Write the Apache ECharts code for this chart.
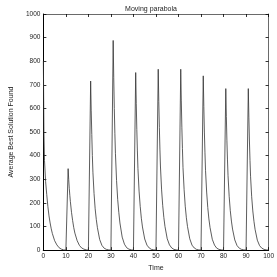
<!DOCTYPE html>
<html><head><meta charset="utf-8">
<script src="https://cdn.jsdelivr.net/npm/echarts@6/dist/echarts.min.js"></script>
<style>html,body{margin:0;padding:0;background:#fff}#c{width:277px;height:277px}</style>
</head><body><div id="c"></div>
<script>
// Time samples
const time = [
  0, 0.25, 0.5, 1, 1.5, 2, 2.5, 3, 3.5, 4, 5, 6, 7, 8, 9,
  10, 11, 11.25, 11.5, 11.75, 12, 12.5, 13, 13.5, 14, 15, 16, 17, 18, 19,
  20, 21, 21.25, 21.5, 21.75, 22, 22.5, 23, 23.5, 24, 25, 26, 27, 28, 29,
  30, 31, 31.25, 31.5, 31.75, 32, 32.5, 33, 33.5, 34, 35, 36, 37, 38, 39,
  40, 41, 41.25, 41.5, 41.75, 42, 42.5, 43, 43.5, 44, 45, 46, 47, 48, 49,
  50, 51, 51.25, 51.5, 51.75, 52, 52.5, 53, 53.5, 54, 55, 56, 57, 58, 59,
  60, 61, 61.25, 61.5, 61.75, 62, 62.5, 63, 63.5, 64, 65, 66, 67, 68, 69,
  70, 71, 71.25, 71.5, 71.75, 72, 72.5, 73, 73.5, 74, 75, 76, 77, 78, 79,
  80, 81, 81.25, 81.5, 81.75, 82, 82.5, 83, 83.5, 84, 85, 86, 87, 88, 89,
  90, 91, 91.25, 91.5, 91.75, 92, 92.5, 93, 93.5, 94, 95, 96, 97, 98, 99,
  100
];
// Average best solution found at each time sample
const bestFound = [
  800, 500, 380, 290, 235, 185, 145, 115, 90, 70, 40, 22, 10, 4, 1,
  0, 345, 300, 262, 232, 205, 160, 125, 95, 72, 40, 20, 9, 4, 1,
  0, 716, 590, 490, 400, 330, 240, 175, 130, 95, 45, 20, 8, 3, 1,
  0, 888, 730, 600, 495, 410, 295, 215, 160, 115, 55, 25, 10, 4, 1,
  0, 752, 620, 510, 420, 345, 250, 185, 135, 98, 47, 21, 9, 3, 1,
  0, 766, 630, 520, 428, 352, 255, 188, 138, 100, 48, 22, 9, 3, 1,
  0, 766, 632, 518, 430, 350, 256, 186, 137, 100, 48, 21, 9, 3, 1,
  0, 738, 608, 500, 412, 338, 246, 180, 132, 96, 46, 21, 8, 3, 1,
  0, 684, 565, 463, 382, 315, 228, 167, 123, 89, 43, 19, 8, 3, 1,
  0, 684, 563, 462, 380, 313, 226, 166, 122, 88, 42, 19, 8, 3, 1,
  0
];
const xTicks = [0, 10, 20, 30, 40, 50, 60, 70, 80, 90, 100];
const yTicks = [0, 100, 200, 300, 400, 500, 600, 700, 800, 900, 1000];

const pts = time.map((t, i) => [t, bestFound[i]]);
const FONT = 'Liberation Sans';
const tick = { show: true, inside: true, length: 3, lineStyle: { color: '#000', width: 0.8 } };

const chart = echarts.init(document.getElementById('c'), null, { renderer: 'canvas' });
chart.setOption({
  animation: false,
  backgroundColor: '#fff',
  title: {
    text: 'Moving parabola', left: 146, top: 1, textAlign: 'center',
    textStyle: { fontFamily: FONT, fontSize: 7, fontWeight: 'normal', color: '#222' }
  },
  grid: { left: 22.7, right: 7, top: 14, bottom: 19, containLabel: false },
  xAxis: [
    {
      type: 'value', min: 0, max: 100, interval: 10, position: 'bottom',
      name: 'Time', nameLocation: 'middle', nameGap: 14,
      nameTextStyle: { fontFamily: FONT, fontSize: 7, color: '#222' },
      axisLine: { show: true, onZero: false, lineStyle: { color: '#000', width: 1.2 } }, axisTick: tick,
      axisLabel: { fontFamily: FONT, fontSize: 6.5, color: '#222', margin: 3, formatter: v => xTicks.includes(v) ? String(v) : '' },
      splitLine: { show: false }
    },
    {
      type: 'value', min: 0, max: 100, interval: 10, position: 'top',
      axisLine: { show: true, onZero: false, lineStyle: { color: '#444', width: 0.8 } }, axisTick: tick,
      axisLabel: { show: false }, splitLine: { show: false }
    }
  ],
  yAxis: [
    {
      type: 'value', min: 0, max: 1000, interval: 100, position: 'left',
      name: 'Average Best Solution Found', nameLocation: 'middle', nameGap: 18, nameRotate: 90,
      nameTextStyle: { fontFamily: FONT, fontSize: 7, color: '#222' },
      axisLine: { show: true, onZero: false, lineStyle: { color: '#000', width: 1 } }, axisTick: tick,
      axisLabel: { fontFamily: FONT, fontSize: 6.5, color: '#222', margin: 3, formatter: v => yTicks.includes(v) ? String(v) : '' },
      splitLine: { show: false }
    },
    {
      type: 'value', min: 0, max: 1000, interval: 100, position: 'right',
      axisLine: { show: true, onZero: false, lineStyle: { color: '#444', width: 0.8 } }, axisTick: tick,
      axisLabel: { show: false }, splitLine: { show: false }
    }
  ],
  series: [{
    type: 'line', data: pts, xAxisIndex: 0, yAxisIndex: 0,
    showSymbol: false, smooth: false,
    lineStyle: { color: '#333', width: 0.8 }
  }]
});
</script></body></html>
